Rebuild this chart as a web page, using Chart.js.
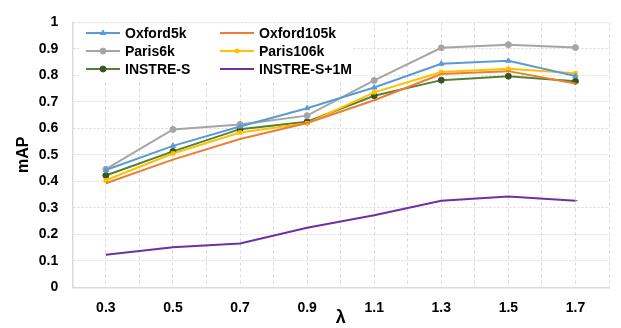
<!DOCTYPE html>
<html>
<head>
<meta charset="utf-8">
<script src="https://cdn.jsdelivr.net/npm/chart.js@4/dist/chart.umd.min.js"></script>
<style>
  html, body { margin: 0; padding: 0; background: #fff; }
  #wrap { width: 621px; height: 328px; }
</style>
</head>
<body>
<div id="wrap"><canvas id="chart" width="621" height="328"></canvas></div>
<script>
// lambda values on the x axis
const lambdas = [0.3, 0.5, 0.7, 0.9, 1.1, 1.3, 1.5, 1.7];

// mAP per dataset
const oxford5k   = [0.443, 0.534, 0.607, 0.676, 0.754, 0.844, 0.855, 0.798];
const oxford105k = [0.393, 0.482, 0.560, 0.620, 0.706, 0.805, 0.816, 0.769];
const paris6k    = [0.446, 0.596, 0.615, 0.648, 0.781, 0.904, 0.916, 0.905];
const paris106k  = [0.404, 0.505, 0.584, 0.619, 0.736, 0.813, 0.825, 0.808];
const instreS    = [0.422, 0.513, 0.597, 0.625, 0.723, 0.782, 0.797, 0.778];
const instreS1M  = [0.123, 0.151, 0.165, 0.225, 0.272, 0.327, 0.343, 0.327];

const yTicks = [0, 0.1, 0.2, 0.3, 0.4, 0.5, 0.6, 0.7, 0.8, 0.9, 1];

const FONT = "'Liberation Sans', Arial, sans-serif";

function pts(vals) {
  return vals.map((v, i) => ({ x: lambdas[i], y: v }));
}

function series(label, vals, color, style, radius, markColor) {
  return {
    label: label,
    data: pts(vals),
    borderColor: color,
    backgroundColor: markColor || color,
    pointBorderColor: markColor || color,
    pointStyle: style,
    pointRadius: radius,
    pointBorderWidth: 1,
    borderWidth: 2,
    tension: 0
  };
}

const datasets = [
  series('Oxford5k', oxford5k, '#5b9bd5', 'triangle', 3),
  series('Oxford105k', oxford105k, '#ed7d31', 'dash', 2),
  series('Paris6k', paris6k, '#a5a5a5', 'circle', 3),
  series('Paris106k', paris106k, '#ffc000', 'rect', 2.5),
  series('INSTRE-S', instreS, '#548235', 'circle', 3, '#375623'),
  series('INSTRE-S+1M', instreS1M, '#7030a0', 'dash', 2)
];

// legend drawn inside the plot, two columns on a white box
const boxLegend = {
  id: 'boxLegend',
  afterDraw(chart) {
    const ctx = chart.ctx;
    ctx.save();
    ctx.fillStyle = '#fff';
    ctx.fillRect(79, 23, 274, 57);
    const cols = [86, 220];
    const rows = [33, 51, 69];
    ctx.textBaseline = 'middle';
    chart.data.datasets.forEach((ds, i) => {
      const x = cols[i % 2];
      const y = rows[Math.floor(i / 2)];
      ctx.strokeStyle = ds.borderColor;
      ctx.lineWidth = 2;
      ctx.beginPath();
      ctx.moveTo(x, y);
      ctx.lineTo(x + 34, y);
      ctx.stroke();
      ctx.fillStyle = ds.backgroundColor;
      ctx.strokeStyle = ds.pointBorderColor;
      ctx.lineWidth = 1;
      Chart.helpers.drawPoint(ctx, {
        pointStyle: ds.pointStyle,
        radius: ds.pointRadius,
        borderWidth: 1,
        rotation: 0
      }, x + 17, y);
      ctx.fillStyle = '#000';
      ctx.font = 'bold 14px ' + FONT;
      ctx.fillText(ds.label, x + 39, y + 1);
    });
    ctx.restore();
  }
};

const chart = new Chart(document.getElementById('chart').getContext('2d'), {
  type: 'line',
  data: { datasets: datasets },
  options: {
    responsive: false,
    animation: false,
    layout: { padding: { top: 14.7, right: 1, left: 0, bottom: 0 } },
    plugins: {
      legend: { display: false },
      tooltip: { enabled: false }
    },
    scales: {
      x: {
        type: 'linear',
        min: 0.2,
        max: 1.8,
        afterBuildTicks(scale) {
          scale.ticks = [];
          for (let k = 2; k <= 18; k++) scale.ticks.push({ value: k / 10 });
        },
        afterFit(scale) { scale.height = 40.7; },
        grid: { color: '#d9d9d9', drawTicks: false, lineWidth: 1 },
        border: { color: '#d9d9d9', width: 1.5, dash: [3, 3] },
        ticks: {
          padding: 12,
          color: '#000',
          font: { family: FONT, size: 14, weight: 'bold' },
          maxRotation: 0,
          autoSkip: false,
          callback(v) {
            const k = Math.round(v * 10);
            return k % 2 === 1 ? (k / 10).toFixed(1) : '';
          }
        },
        title: {
          display: true,
          text: 'λ',
          color: '#000',
          font: { family: FONT, size: 18, weight: 'bold' },
          padding: { top: 0, bottom: -1 }
        }
      },
      y: {
        min: 0,
        max: 1,
        afterBuildTicks(scale) {
          scale.ticks = yTicks.map(v => ({ value: v }));
        },
        afterFit(scale) { scale.width = 72.3; },
        grid: { color: '#d9d9d9', drawTicks: false, lineWidth: 1 },
        border: { color: '#d9d9d9', width: 1.5, dash: [2, 2] },
        ticks: {
          padding: 14,
          color: '#000',
          font: { family: FONT, size: 14, weight: 'bold' },
          callback(v) {
            if (v === 0) return '0';
            if (v === 1) return '1';
            return v.toFixed(1);
          }
        },
        title: {
          display: true,
          text: 'mAP',
          color: '#000',
          font: { family: FONT, size: 16, weight: 'bold' },
          padding: { top: 14, bottom: 0 }
        }
      }
    }
  },
  plugins: [boxLegend]
});
</script>
</body>
</html>
